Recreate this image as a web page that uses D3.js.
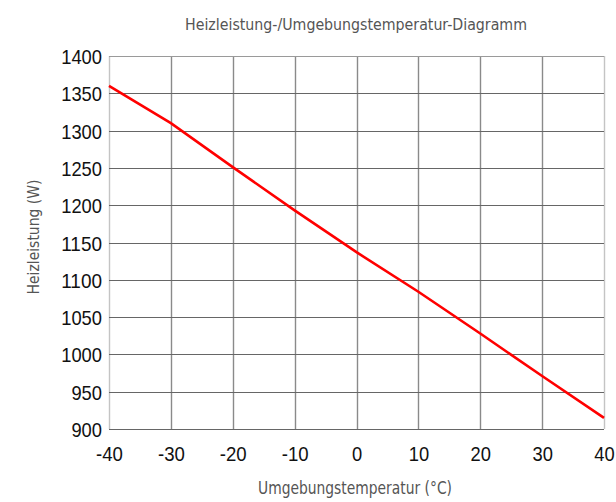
<!DOCTYPE html>
<html>
<head>
<meta charset="utf-8">
<script src="https://cdn.jsdelivr.net/npm/d3@7"></script>
<style>
  body { margin: 0; background: #fff; }
  .tick text { font-family: "Liberation Sans Narrow", "Liberation Sans", Arial, sans-serif; fill: #111; }
  .lbl { font-family: "DejaVu Sans Condensed", "Open Sans", sans-serif; fill: #555; }
</style>
</head>
<body>
<div class="vis-holder"></div>
<script>
// temperature (°C) and heating power (W)
var temps = [-40, -30, -20, -10, 0, 10, 20, 30, 40];
var power = [1360, 1310, 1251, 1193, 1137, 1084, 1028, 971, 915];
var xTicks = [-40, -30, -20, -10, 0, 10, 20, 30, 40];
var yTicks = [900, 950, 1000, 1050, 1100, 1150, 1200, 1250, 1300, 1350, 1400];

var width = 616;
var height = 502;
var margin = { top: 56, bottom: 73, left: 109, right: 12 };

var svg = d3.select(".vis-holder")
            .append("svg")
            .attr("width", width)
            .attr("height", height);

var xScale = d3.scaleLinear()
               .domain([-40, 40])
               .range([margin.left, width - margin.right]);

var yScale = d3.scaleLinear()
               .domain([900, 1400])
               .range([height - margin.bottom, margin.top]);

// vertical grid lines
svg.append("g")
   .selectAll("line")
   .data(xTicks)
   .enter()
   .append("line")
   .attr("x1", function(d) { return Math.round(xScale(d)) + 0.5; })
   .attr("x2", function(d) { return Math.round(xScale(d)) + 0.5; })
   .attr("y1", yScale(1400))
   .attr("y2", yScale(900))
   .attr("stroke", function(d) { return (d == -40 || d == 40) ? "#c4c4c4" : "#8a8a8a"; })
   .attr("stroke-width", 1.4);

// horizontal grid lines
svg.append("g")
   .selectAll("line")
   .data(yTicks)
   .enter()
   .append("line")
   .attr("x1", xScale(-40))
   .attr("x2", xScale(40))
   .attr("y1", function(d) { return Math.round(yScale(d)) + 0.5; })
   .attr("y2", function(d) { return Math.round(yScale(d)) + 0.5; })
   .attr("stroke", function(d) { return d == 1400 ? "#9a9a9a" : "#666"; })
   .attr("stroke-width", 1);

// plain labels: hyphen minus, no thousands separator
var fmt = function(d) { return String(d); };

// axes, labels only
var xAxis = svg.append("g")
               .attr("transform", `translate(0, ${height - margin.bottom})`)
               .call(d3.axisBottom(xScale).tickValues(xTicks).tickFormat(fmt).tickSize(0).tickPadding(17));
var yAxis = svg.append("g")
               .attr("transform", `translate(${margin.left}, 0)`)
               .call(d3.axisLeft(yScale).tickValues(yTicks).tickFormat(fmt).tickSize(0).tickPadding(7));
xAxis.select(".domain").remove();
yAxis.select(".domain").remove();
yAxis.selectAll(".tick text").attr("dy", "0.36em");

// squeeze the labels to the narrow look of the original
svg.selectAll(".tick text")
   .attr("font-size", 21)
   .attr("lengthAdjust", "spacingAndGlyphs")
   .attr("textLength", function(d) {
     var s = String(d);
     return s.replace("-", "").length * 10.2 + (s[0] == "-" ? 6.5 : 0);
   });

// heating power line
var line = d3.line()
             .x(function(d, i) { return xScale(temps[i]); })
             .y(function(d) { return yScale(d); });

svg.append("path")
   .attr("d", line(power))
   .attr("fill", "none")
   .attr("stroke", "#ff0000")
   .attr("stroke-width", 2.6);

// title
svg.append("text")
   .attr("class", "lbl")
   .attr("text-anchor", "middle")
   .attr("x", 356)
   .attr("y", 30)
   .attr("font-size", 16)
   .attr("textLength", 342)
   .attr("lengthAdjust", "spacingAndGlyphs")
   .text("Heizleistung-/Umgebungstemperatur-Diagramm");

// x-axis title
svg.append("text")
   .attr("class", "lbl")
   .attr("text-anchor", "middle")
   .attr("x", 355)
   .attr("y", 494)
   .attr("font-size", 17)
   .attr("textLength", 194)
   .attr("lengthAdjust", "spacingAndGlyphs")
   .text("Umgebungstemperatur (°C)");

// y-axis title
svg.append("text")
   .attr("class", "lbl")
   .attr("text-anchor", "middle")
   .attr("transform", "translate(39,237)rotate(-90)")
   .attr("font-size", 16)
   .attr("textLength", 115)
   .attr("lengthAdjust", "spacingAndGlyphs")
   .text("Heizleistung (W)");
</script>
</body>
</html>
